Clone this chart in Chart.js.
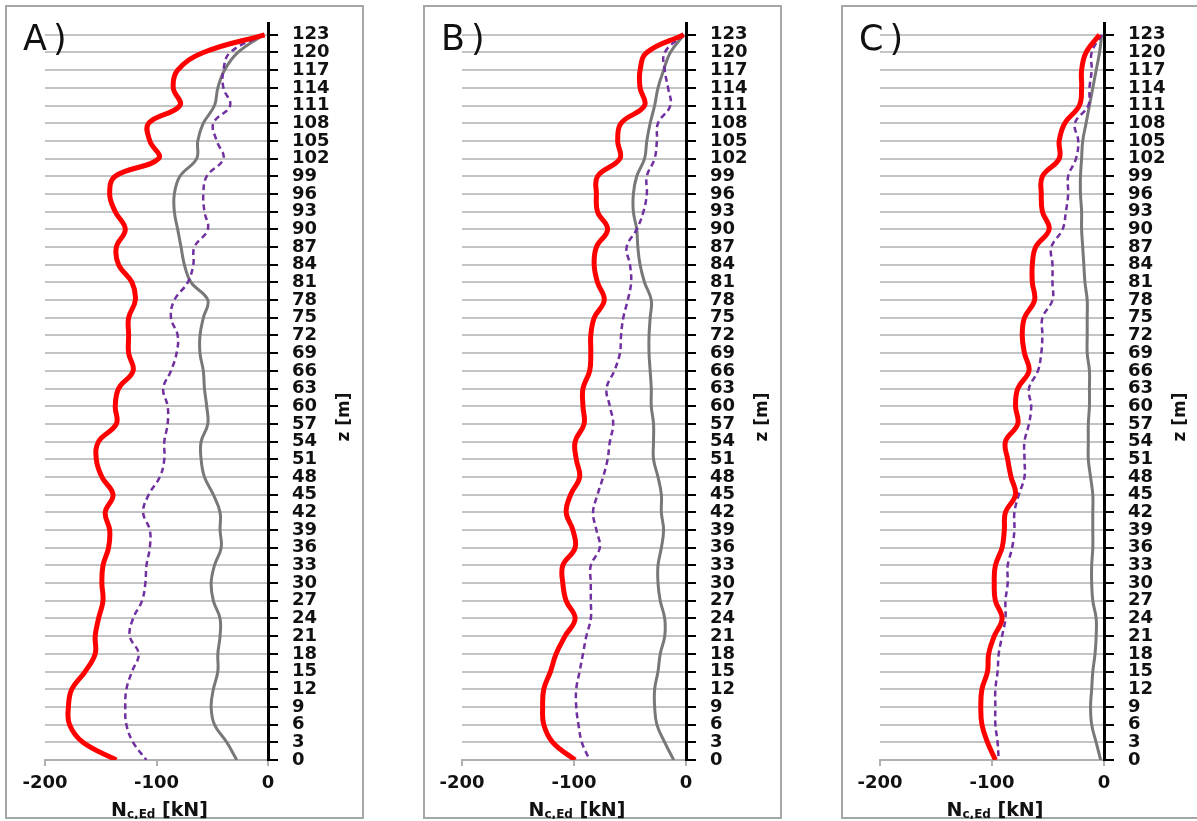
<!DOCTYPE html>
<html>
<head>
<meta charset="utf-8">
<script src="https://cdn.jsdelivr.net/npm/chart.js@4/dist/chart.umd.min.js"></script>
<style>
  body { margin: 0; background: #fff; width: 1197px; height: 821px; overflow: hidden; position: relative; }
  .frame { position: absolute; top: 5px; width: 359px; height: 814px; border: 2px solid #a6a6a6; box-sizing: border-box; }
  .frame canvas { position: absolute; left: -2px; top: -2px; }
</style>
</head>
<body>
<div class="frame" style="left:5px"><canvas id="chart-a" width="359" height="814"></canvas></div>
<div class="frame" style="left:423px"><canvas id="chart-b" width="359" height="814"></canvas></div>
<div class="frame" style="left:841px"><canvas id="chart-c" width="359" height="814"></canvas></div>

<script>
// высоты z [m], сверху вниз
const zLevels = [123, 120, 117, 114, 111, 108, 105, 102, 99, 96, 93, 90, 87, 84, 81, 78, 75, 72, 69, 66, 63, 60,
                 57, 54, 51, 48, 45, 42, 39, 36, 33, 30, 27, 24, 21, 18, 15, 12, 9, 6, 3, 0];
const xTicks = [-200, -100, 0];

// A)
const aRed = [-3, -58, -81, -85, -79, -107, -106, -98, -137, -142, -137, -128, -136, -134, -122, -119, -125, -125, -125, -121, -134, -137,
              -136, -152, -154, -149, -139, -146, -142, -143, -148, -149, -148, -152, -155, -155, -164, -176, -179, -178, -166, -136];
const aGray = [-4, -27, -39, -45, -48, -58, -63, -64, -79, -84, -84, -81, -78, -75, -69, -54, -58, -61, -61, -58, -57, -55,
               -54, -60, -60, -57, -49, -43, -43, -42, -48, -51, -49, -43, -43, -45, -45, -49, -51, -48, -37, -28];
const aPurple = [-4, -34, -40, -40, -34, -49, -46, -40, -55, -58, -57, -54, -66, -67, -72, -84, -87, -81, -82, -87, -94, -90,
                 -90, -93, -93, -97, -107, -112, -106, -106, -109, -110, -113, -121, -124, -116, -122, -127, -128, -127, -121, -109];

// B)
const bRed = [-2, -35, -41, -41, -37, -58, -61, -59, -79, -80, -79, -70, -80, -82, -79, -73, -82, -85, -85, -86, -92, -92,
              -91, -99, -98, -95, -103, -107, -101, -99, -110, -110, -107, -99, -108, -116, -121, -127, -128, -127, -119, -99];
const bGray = [-2, -14, -20, -25, -28, -32, -35, -37, -44, -47, -47, -44, -43, -41, -37, -31, -32, -33, -33, -32, -31, -31,
               -29, -29, -29, -25, -22, -22, -20, -22, -25, -25, -23, -19, -19, -23, -25, -28, -28, -26, -19, -11];
const bPurple = [-2, -19, -19, -16, -14, -25, -26, -28, -35, -35, -38, -44, -53, -50, -49, -52, -56, -58, -59, -64, -71, -68,
                 -65, -68, -70, -74, -79, -83, -80, -77, -85, -85, -85, -85, -89, -92, -95, -98, -98, -96, -93, -86];

// C)
const cRed = [-4, -16, -20, -20, -22, -35, -40, -40, -55, -56, -55, -49, -61, -64, -64, -62, -71, -73, -71, -67, -77, -79,
              -77, -88, -86, -83, -79, -88, -89, -91, -97, -98, -97, -91, -98, -103, -104, -109, -110, -109, -104, -97];
const cGray = [-2, -4, -7, -10, -13, -16, -19, -20, -21, -21, -20, -20, -19, -18, -17, -15, -15, -15, -15, -13, -13, -13,
               -14, -14, -14, -12, -10, -10, -10, -10, -11, -11, -10, -7, -7, -8, -10, -11, -12, -11, -7, -3];
const cPurple = [-2, -11, -11, -13, -14, -26, -23, -25, -32, -32, -34, -37, -47, -46, -46, -46, -55, -55, -56, -59, -67, -65,
                 -67, -71, -71, -71, -76, -80, -80, -82, -86, -86, -88, -88, -91, -94, -95, -97, -97, -97, -95, -94];

const FONT = 'DejaVu Sans, Verdana, sans-serif';

function toPoints(values) {
  return values.map((v, i) => ({ x: v, y: zLevels[i] }));
}

// надписи: метка панели, подписи осей
const labelsPlugin = {
  id: 'panelLabels',
  afterDraw(chart) {
    const ctx = chart.ctx;
    const area = chart.chartArea;
    ctx.save();
    ctx.fillStyle = '#111';

    // A) / B) / C)
    ctx.font = '35px ' + FONT;
    ctx.textAlign = 'left';
    ctx.textBaseline = 'alphabetic';
    ctx.letterSpacing = '6px';
    ctx.fillText(chart.options.panelName, 18, 45);
    ctx.letterSpacing = '0px';

    // N c,Ed [kN]
    const big = 'bold 19px ' + FONT;
    const small = 'bold 12px ' + FONT;
    ctx.font = big; const w1 = ctx.measureText('N').width;
    ctx.font = small; const w2 = ctx.measureText('c,Ed').width;
    ctx.font = big; const w3 = ctx.measureText(' [kN]').width;
    let x = (area.left + area.right) / 2 + 3 - (w1 + w2 + w3) / 2;
    const base = 811;
    ctx.font = big; ctx.fillText('N', x, base); x += w1;
    ctx.font = small; ctx.fillText('c,Ed', x, base + 2); x += w2;
    ctx.font = big; ctx.fillText(' [kN]', x, base);

    // z [m]
    ctx.translate(area.right + 77, 412);
    ctx.rotate(-Math.PI / 2);
    ctx.font = 'bold 17px ' + FONT;
    ctx.textAlign = 'center';
    ctx.textBaseline = 'middle';
    ctx.fillText('z [m]', 0, 0);
    ctx.restore();
  }
};

function createPanel(id, name, red, gray, purple, padLeft) {
  const ctx = document.getElementById(id).getContext('2d');
  new Chart(ctx, {
    type: 'scatter',
    data: {
      datasets: [
        { data: toPoints(red), borderColor: '#ff0000', borderWidth: 5, showLine: true, pointRadius: 0, tension: 0.4 },
        { data: toPoints(purple), borderColor: '#7030a0', borderWidth: 2.5, borderDash: [6, 4], showLine: true, pointRadius: 0, tension: 0.4 },
        { data: toPoints(gray), borderColor: '#787878', borderWidth: 3, showLine: true, pointRadius: 0, tension: 0.4 }
      ]
    },
    options: {
      panelName: name,
      responsive: false,
      animation: false,
      layout: { padding: { left: padLeft, top: 18, right: 0, bottom: 0 } },
      plugins: { legend: { display: false }, tooltip: { enabled: false } },
      scales: {
        x: {
          type: 'linear',
          min: -200,
          max: 0,
          afterBuildTicks: (scale) => { scale.ticks = xTicks.map(v => ({ value: v })); },
          afterFit: (scale) => { scale.height = 59; scale.paddingLeft = 0; scale.paddingRight = 0; },
          grid: { drawOnChartArea: false, color: '#b0b0b0', tickLength: 6, lineWidth: 2 },
          border: { color: '#b0b0b0', width: 2 },
          ticks: { color: '#111', padding: 7, font: { family: FONT, size: 18, weight: 'bold' } }
        },
        y: {
          type: 'linear',
          position: 'right',
          min: 0,
          max: 125,
          afterBuildTicks: (scale) => { scale.ticks = zLevels.map(v => ({ value: v })); },
          afterFit: (scale) => { scale.width = 96; scale.paddingTop = 0; scale.paddingBottom = 0; },
          grid: { color: '#c4c4c4', lineWidth: 2, tickColor: '#000', tickWidth: 2, tickLength: 10 },
          border: { color: '#000', width: 3 },
          ticks: { color: '#111', padding: 14, autoSkip: false, font: { family: FONT, size: 18, weight: 'bold' } }
        }
      }
    },
    plugins: [labelsPlugin]
  });
}

createPanel('chart-a', 'A)', aRed, aGray, aPurple, 40);
createPanel('chart-b', 'B)', bRed, bGray, bPurple, 39);
createPanel('chart-c', 'C)', cRed, cGray, cPurple, 39);
</script>
</body>
</html>
